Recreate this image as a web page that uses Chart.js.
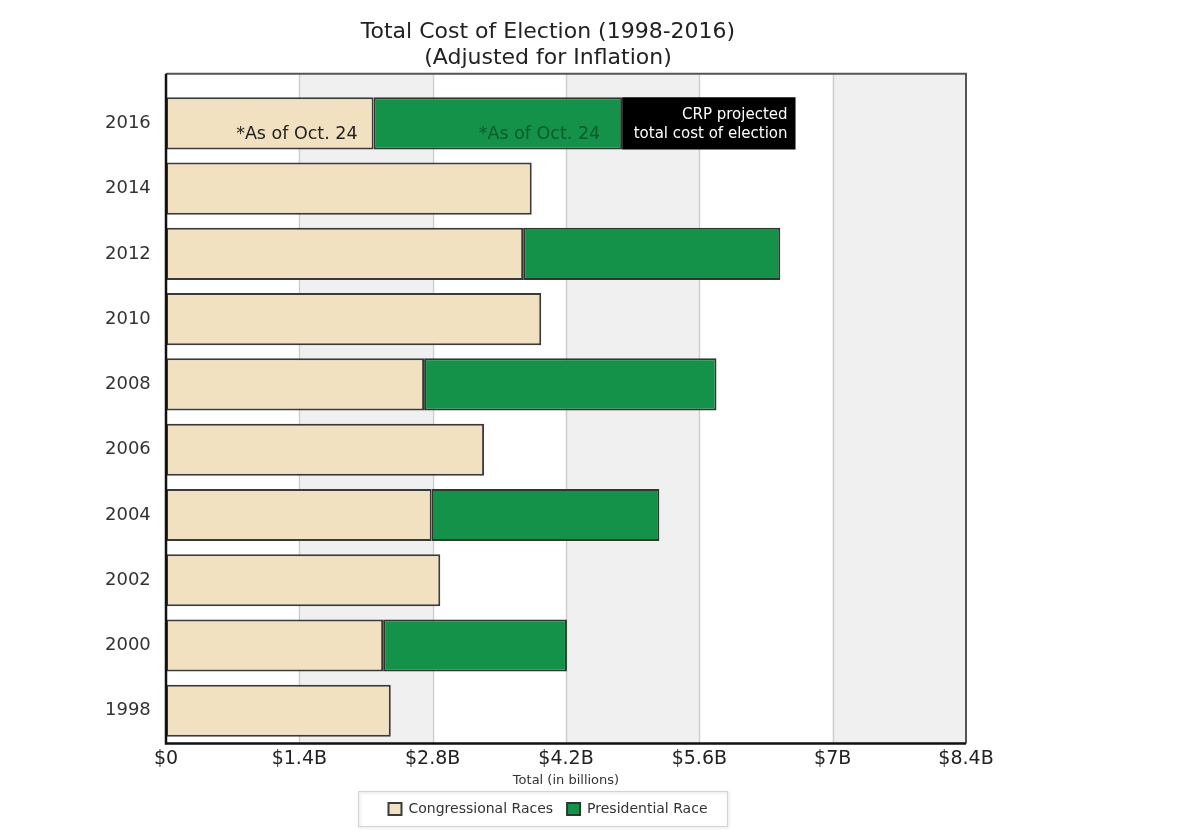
<!DOCTYPE html>
<html>
<head>
<meta charset="utf-8">
<script src="https://cdn.jsdelivr.net/npm/chart.js@4.4.0/dist/chart.umd.min.js"></script>
<style>
  html, body { margin: 0; padding: 0; background: #fff; }
  #wrap { position: relative; width: 1200px; height: 836px; }
</style>
</head>
<body>
<div id="wrap"><canvas id="grafica" width="1200" height="836"></canvas></div>
<script>
// datos (miles de millones, ajustados por inflacion)
const anios = ['2016', '2014', '2012', '2010', '2008', '2006', '2004', '2002', '2000', '1998'];
const congreso = [2.18, 3.84, 3.75, 3.94, 2.71, 3.34, 2.79, 2.88, 2.28, 2.36];
const presidencial = [2.61, null, 2.70, null, 3.07, null, 2.39, null, 1.93, null];
const proyectado = [1.82, null, null, null, null, null, null, null, null, null];
const etiquetasX = ['$0', '$1.4B', '$2.8B', '$4.2B', '$5.6B', '$7B', '$8.4B'];

const fuente = 'DejaVu Sans';
const extraArriba = 17; // el marco empieza un poco antes que la primera barra

// bandas grises y lineas de la grilla
const fondo = {
    id: 'fondo',
    beforeDatasetsDraw(chart) {
        const { ctx, chartArea, scales } = chart;
        const x = scales.x;
        const top = chartArea.top - extraArriba;
        ctx.save();
        ctx.fillStyle = '#f0f0f0';
        x.ticks.forEach((t, i) => {
            if (i % 2 === 1 && i < x.ticks.length - 1) {
                const a = x.getPixelForValue(t.value);
                const b = x.getPixelForValue(x.ticks[i + 1].value);
                ctx.fillRect(a, top, b - a, chartArea.bottom - top);
            }
        });
        ctx.strokeStyle = '#cfcfcf';
        ctx.lineWidth = 1.5;
        x.ticks.forEach((t, i) => {
            if (i === 0 || i === x.ticks.length - 1) return;
            const a = Math.round(x.getPixelForValue(t.value)) + 0.5;
            ctx.beginPath();
            ctx.moveTo(a, top);
            ctx.lineTo(a, chartArea.bottom);
            ctx.stroke();
        });
        ctx.restore();
    },
    afterDatasetsDraw(chart) {
        const { ctx, chartArea } = chart;
        const top = chartArea.top - extraArriba;
        ctx.save();
        ctx.lineWidth = 2;
        ctx.strokeStyle = '#555';
        ctx.beginPath();
        ctx.moveTo(chartArea.left, top);
        ctx.lineTo(chartArea.right, top);
        ctx.lineTo(chartArea.right, chartArea.bottom);
        ctx.stroke();
        ctx.strokeStyle = '#111';
        ctx.lineWidth = 2.5;
        ctx.beginPath();
        ctx.moveTo(chartArea.left, top);
        ctx.lineTo(chartArea.left, chartArea.bottom);
        ctx.lineTo(chartArea.right, chartArea.bottom);
        ctx.stroke();
        ctx.restore();
    }
};

// textos dentro de la barra de 2016
const notas = {
    id: 'notas',
    afterDatasetsDraw(chart) {
        const ctx = chart.ctx;
        const c = chart.getDatasetMeta(0).data[0];
        const p = chart.getDatasetMeta(1).data[0];
        const r = chart.getDatasetMeta(2).data[0];
        ctx.save();
        ctx.textAlign = 'right';
        ctx.textBaseline = 'middle';
        ctx.font = '17.5px "' + fuente + '"';
        ctx.fillStyle = '#222';
        ctx.fillText('*As of Oct. 24', c.x - 16, c.y + 11);
        ctx.fillStyle = '#0b5a2b';
        ctx.fillText('*As of Oct. 24', p.x - 22, p.y + 11);
        ctx.font = '15px "' + fuente + '"';
        ctx.fillStyle = '#fff';
        ctx.fillText('CRP projected', r.x - 8, r.y - 8);
        ctx.fillText('total cost of election', r.x - 8, r.y + 11);
        ctx.restore();
    }
};

// recuadro de la leyenda
const cajaLeyenda = {
    id: 'cajaLeyenda',
    afterDraw(chart) {
        const cajas = chart.legend.legendHitBoxes;
        if (!cajas || !cajas.length) return;
        const x0 = Math.min(...cajas.map(b => b.left)) - 30;
        const x1 = Math.max(...cajas.map(b => b.left + b.width)) + 20;
        const y0 = Math.min(...cajas.map(b => b.top)) - 11;
        const y1 = Math.max(...cajas.map(b => b.top + b.height)) + 10;
        const ctx = chart.ctx;
        ctx.save();
        ctx.strokeStyle = '#d4d4d4';
        ctx.lineWidth = 1;
        ctx.shadowColor = 'rgba(0,0,0,0.18)';
        ctx.shadowBlur = 3;
        ctx.shadowOffsetX = 1;
        ctx.shadowOffsetY = 1;
        ctx.strokeRect(Math.round(x0) + 0.5, Math.round(y0) + 0.5, x1 - x0, y1 - y0);
        ctx.restore();
    }
};

const ctx = document.getElementById('grafica');

const grafica = new Chart(ctx, {
    type: 'bar',
    data: {
        labels: anios,
        datasets: [{
            label: 'Congressional Races',
            data: congreso,
            backgroundColor: '#f1e1c0',
            borderColor: '#3a3a3a',
            borderWidth: 2,
            borderSkipped: false
        }, {
            label: 'Presidential Race',
            data: presidencial,
            backgroundColor: '#149249',
            borderColor: '#2a3a2e',
            borderWidth: 2,
            borderSkipped: false
        }, {
            label: 'CRP projected',
            data: proyectado,
            backgroundColor: '#000',
            borderWidth: 0
        }]
    },
    options: {
        indexAxis: 'y',
        responsive: false,
        animation: false,
        devicePixelRatio: 1,
        datasets: {
            bar: { barPercentage: 0.8, categoryPercentage: 1 }
        },
        layout: {
            padding: { left: 130, right: 234, top: 0, bottom: 10 }
        },
        plugins: {
            title: {
                display: true,
                text: ['Total Cost of Election (1998-2016)', '(Adjusted for Inflation)'],
                color: '#222',
                font: { family: fuente, size: 22, weight: 'normal', lineHeight: 1.2 },
                padding: { top: 19, bottom: 19 }
            },
            legend: {
                position: 'bottom',
                labels: {
                    color: '#333',
                    font: { family: fuente, size: 14 },
                    boxWidth: 13,
                    boxHeight: 12,
                    padding: 14,
                    filter: item => item.datasetIndex < 2
                }
            },
            tooltip: { enabled: false }
        },
        scales: {
            x: {
                stacked: true,
                min: 0,
                max: 8.4,
                grid: { display: false, drawTicks: false },
                border: { display: false },
                ticks: {
                    stepSize: 1.4,
                    color: '#222',
                    padding: 6,
                    font: { family: fuente, size: 19, lineHeight: 1 },
                    callback: (v, i) => etiquetasX[i]
                },
                title: {
                    display: true,
                    text: 'Total (in billions)',
                    color: '#333',
                    font: { family: fuente, size: 13 },
                    padding: { top: -2, bottom: 0 }
                }
            },
            y: {
                stacked: true,
                grid: { display: false, drawTicks: false },
                border: { display: false },
                ticks: {
                    color: '#333',
                    mirror: true,
                    padding: -61,
                    font: { family: fuente, size: 18 }
                },
                afterFit: (s) => { s.width = 36; }
            }
        }
    },
    plugins: [fondo, notas, cajaLeyenda]
});
</script>
</body>
</html>
